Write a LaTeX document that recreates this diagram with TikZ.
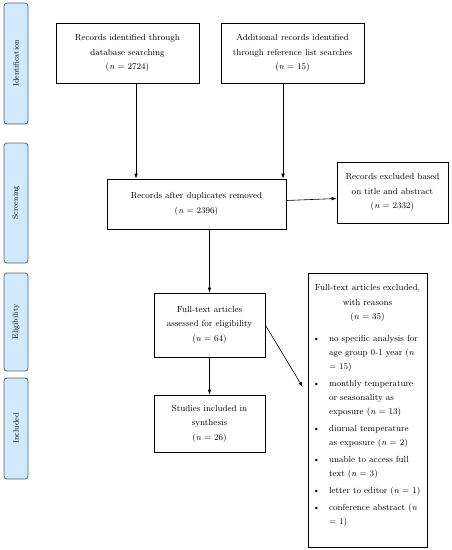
\documentclass[tikz,border=0pt]{standalone}
\usepackage{tikz}
\usetikzlibrary{arrows.meta}
\usepackage{xcolor}
\definecolor{phasefill}{RGB}{208,234,251}
\definecolor{phaseline}{RGB}{85,98,108}

\begin{document}
\begin{tikzpicture}[x=1pt, y=-1pt,
  box/.style={draw, line width=0.6pt, align=center, inner sep=2pt,
    font=\fontsize{8.8}{14.5}\selectfont},
  phase/.style={draw=phaseline, fill=phasefill, rounded corners=3pt, line width=0.8pt,
    minimum height=24pt, rotate=90, font=\fontsize{7.6}{9}\selectfont},
  arr/.style={-{Latex[length=5pt,width=3.5pt]}, line width=0.6pt}]
\useasboundingbox (0,0) rectangle (451,550);

% Phase labels
\node[phase, minimum width=121pt] (ident) at (16,63.5) {Identification};
\node[phase, minimum width=120pt] (screen) at (16,203) {Screening};
\node[phase, minimum width=98pt] (elig) at (16,322) {Eligibility};
\node[phase, minimum width=101pt] (incl) at (16,428.5) {Included};

% Boxes
\node[box, minimum width=143pt, minimum height=60pt] (dbrec) at (127.5,53)
  {Records identified through\\ database searching\\ (\textit{n} = 2724)};
\node[box, minimum width=143pt, minimum height=60pt] (addrec) at (292.5,53)
  {Additional records identified\\ through reference list searches\\ (\textit{n} = 15)};
\node[box, minimum width=179pt, minimum height=50pt] (dedup) at (196.5,204)
  {Records after duplicates removed\\ (\textit{n} = 2396)};
\node[box, minimum width=111pt, minimum height=61pt] (titleex) at (392.5,192.5)
  {Records excluded based\\ on title and abstract\\ (\textit{n} = 2332)};
\node[box, minimum width=111pt, minimum height=64pt] (fulltext) at (209.5,325)
  {Full-text articles\\ assessed for eligibility\\ (\textit{n} = 64)};
\node[box, minimum width=111pt, minimum height=57pt] (synth) at (209.5,423.5)
  {Studies included in\\ synthesis\\ (\textit{n} = 26)};

% Excluded full texts with reasons
\node[box, align=flush left, text width=107pt, minimum height=274pt, inner sep=6pt] (reasons) at (367.5,410)
  {{\centering Full-text articles excluded,\\ with reasons\\ (\textit{n} = 35)\par}
   \fontsize{8.8}{14}\selectfont
   \begin{list}{\textbullet}{\setlength{\leftmargin}{15pt}\setlength{\labelsep}{9pt}
     \setlength{\topsep}{6pt}\setlength{\itemsep}{3pt}\setlength{\parsep}{0pt}}
   \item no specific analysis for\\ age group 0-1 year (\textit{n}\\ = 15)
   \item monthly temperature\\ or seasonality as\\ exposure (\textit{n} = 13)
   \item diurnal temperature\\ as exposure (\textit{n} = 2)
   \item unable to access full\\ text (\textit{n} = 3)
   \item letter to editor (\textit{n} = 1)
   \item conference abstract (\textit{n}\\ = 1)
   \end{list}\vspace{8pt}};

% Connectors
\draw[arr] ([xshift=8.5pt]dbrec.south) -- ([xshift=8.5pt]dbrec.south |- dedup.north);
\draw[arr] ([xshift=-9.5pt]addrec.south) -- ([xshift=-9.5pt]addrec.south |- dedup.north);
\draw[arr] ([yshift=3.5pt]dedup.east) -- ([yshift=-6pt]titleex.west);
\draw[arr] (fulltext.north |- dedup.south) -- (fulltext.north);
\draw[arr] (fulltext.south) -- (synth.north);
\draw[arr] (fulltext.east) -- ([xshift=-5pt,yshift=23pt]reasons.west);
\end{tikzpicture}
\end{document}
